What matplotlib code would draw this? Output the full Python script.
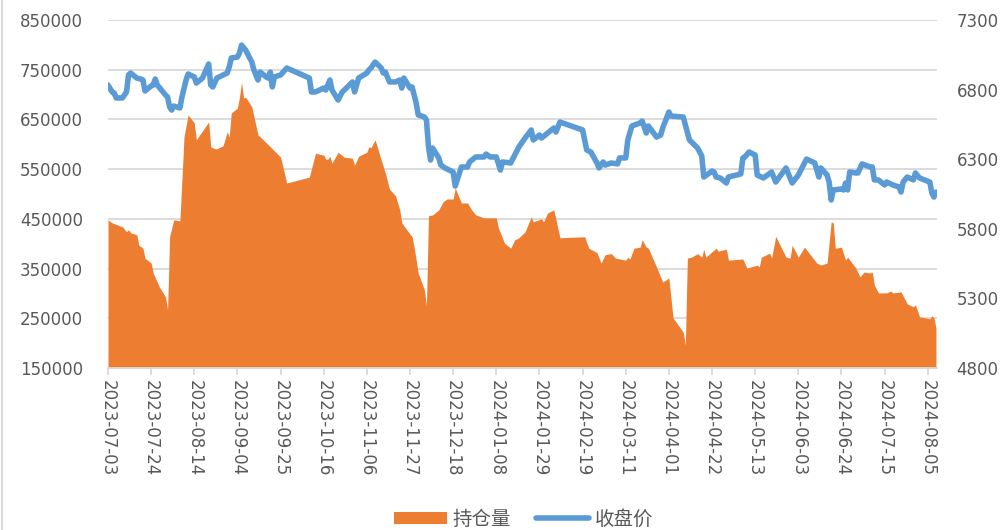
import numpy as np
import matplotlib
matplotlib.use("Agg")
import matplotlib.pyplot as plt
import matplotlib.dates as mdates
from matplotlib.patches import Patch
from matplotlib.lines import Line2D
import pandas as pd

plt.rcParams['font.family'] = ['DejaVu Sans', 'Noto Sans CJK SC']

# 持仓量 (左轴)
oi_dates = [
    "2023-07-03", "2023-07-05", "2023-07-10", "2023-07-12", "2023-07-13", "2023-07-14",
    "2023-07-17", "2023-07-18", "2023-07-20", "2023-07-21", "2023-07-24", "2023-07-25",
    "2023-07-28", "2023-07-31", "2023-08-01", "2023-08-02", "2023-08-04", "2023-08-07",
    "2023-08-09", "2023-08-11", "2023-08-14", "2023-08-15", "2023-08-16", "2023-08-21",
    "2023-08-22", "2023-08-24", "2023-08-25", "2023-08-28", "2023-08-30", "2023-08-31",
    "2023-09-01", "2023-09-04", "2023-09-05", "2023-09-06", "2023-09-07", "2023-09-08",
    "2023-09-11", "2023-09-14", "2023-09-18", "2023-09-20", "2023-09-25", "2023-09-28",
    "2023-10-09", "2023-10-12", "2023-10-16", "2023-10-17", "2023-10-18", "2023-10-19",
    "2023-10-20", "2023-10-23", "2023-10-26", "2023-10-30", "2023-10-31", "2023-11-02",
    "2023-11-06", "2023-11-07", "2023-11-08", "2023-11-10", "2023-11-13", "2023-11-15",
    "2023-11-17", "2023-11-20", "2023-11-22", "2023-11-23", "2023-11-24", "2023-11-28",
    "2023-11-29", "2023-12-01", "2023-12-04", "2023-12-05", "2023-12-06", "2023-12-08",
    "2023-12-11", "2023-12-13", "2023-12-15", "2023-12-18", "2023-12-19", "2023-12-22",
    "2023-12-25", "2023-12-27", "2023-12-29", "2024-01-02", "2024-01-08", "2024-01-09",
    "2024-01-12", "2024-01-15", "2024-01-17", "2024-01-19", "2024-01-22", "2024-01-25",
    "2024-01-26", "2024-01-30", "2024-01-31", "2024-02-02", "2024-02-05", "2024-02-08",
    "2024-02-20", "2024-02-22", "2024-02-26", "2024-02-28", "2024-03-01", "2024-03-04",
    "2024-03-06", "2024-03-11", "2024-03-12", "2024-03-13", "2024-03-15", "2024-03-18",
    "2024-03-19", "2024-03-21", "2024-03-22", "2024-03-26", "2024-03-28", "2024-03-29",
    "2024-04-01", "2024-04-03", "2024-04-08", "2024-04-09", "2024-04-10", "2024-04-12",
    "2024-04-15", "2024-04-17", "2024-04-18", "2024-04-19", "2024-04-24", "2024-04-25",
    "2024-04-29", "2024-04-30", "2024-05-06", "2024-05-07", "2024-05-09", "2024-05-14",
    "2024-05-15", "2024-05-16", "2024-05-20", "2024-05-21", "2024-05-23", "2024-05-28",
    "2024-05-30", "2024-05-31", "2024-06-03", "2024-06-06", "2024-06-12", "2024-06-14",
    "2024-06-17", "2024-06-19", "2024-06-20", "2024-06-21", "2024-06-24", "2024-06-26",
    "2024-06-27", "2024-07-01", "2024-07-03", "2024-07-05", "2024-07-08", "2024-07-09",
    "2024-07-10", "2024-07-12", "2024-07-16", "2024-07-18", "2024-07-19", "2024-07-23",
    "2024-07-25", "2024-07-26", "2024-07-29", "2024-07-30", "2024-08-01", "2024-08-06",
    "2024-08-07", "2024-08-08", "2024-08-09",
]
oi_values = [
    448000, 442000, 434000, 424000, 428000, 422000,
    418000, 397000, 391000, 371000, 361000, 341000,
    313000, 293000, 267000, 414000, 448000, 446000,
    615000, 659000, 643000, 609000, 615000, 645000,
    595000, 591000, 591000, 597000, 625000, 615000,
    663000, 673000, 695000, 725000, 693000, 695000,
    675000, 619000, 603000, 595000, 574000, 522000,
    534000, 582000, 578000, 570000, 570000, 576000,
    562000, 584000, 574000, 572000, 558000, 576000,
    584000, 595000, 593000, 609000, 568000, 542000,
    510000, 496000, 468000, 442000, 436000, 414000,
    393000, 341000, 307000, 275000, 456000, 458000,
    468000, 484000, 490000, 490000, 512000, 482000,
    482000, 468000, 458000, 452000, 452000, 432000,
    401000, 391000, 408000, 412000, 424000, 454000,
    444000, 450000, 444000, 462000, 468000, 412000,
    414000, 391000, 382000, 361000, 378000, 380000,
    371000, 367000, 373000, 369000, 391000, 393000,
    408000, 393000, 391000, 353000, 333000, 323000,
    331000, 251000, 222000, 196000, 371000, 373000,
    380000, 373000, 389000, 373000, 391000, 385000,
    389000, 367000, 369000, 369000, 351000, 357000,
    353000, 373000, 381000, 371000, 415000, 373000,
    371000, 397000, 373000, 393000, 361000, 357000,
    361000, 444000, 442000, 391000, 393000, 367000,
    373000, 351000, 333000, 343000, 341000, 343000,
    317000, 301000, 301000, 305000, 301000, 303000,
    287000, 279000, 273000, 277000, 253000, 249000,
    255000, 251000, 230000,
]

# 收盘价 (右轴)
px_dates = [
    "2023-07-03", "2023-07-05", "2023-07-06", "2023-07-07", "2023-07-10", "2023-07-12",
    "2023-07-13", "2023-07-14", "2023-07-17", "2023-07-19", "2023-07-20", "2023-07-21",
    "2023-07-24", "2023-07-25", "2023-07-26", "2023-07-27", "2023-07-31", "2023-08-01",
    "2023-08-02", "2023-08-03", "2023-08-04", "2023-08-07", "2023-08-08", "2023-08-10",
    "2023-08-11", "2023-08-14", "2023-08-15", "2023-08-18", "2023-08-21", "2023-08-22",
    "2023-08-23", "2023-08-25", "2023-08-28", "2023-08-30", "2023-08-31", "2023-09-01",
    "2023-09-04", "2023-09-05", "2023-09-06", "2023-09-08", "2023-09-11", "2023-09-12",
    "2023-09-14", "2023-09-15", "2023-09-18", "2023-09-19", "2023-09-20", "2023-09-21",
    "2023-09-22", "2023-09-25", "2023-09-28", "2023-10-09", "2023-10-10", "2023-10-12",
    "2023-10-16", "2023-10-17", "2023-10-19", "2023-10-20", "2023-10-23", "2023-10-25",
    "2023-10-27", "2023-10-30", "2023-10-31", "2023-11-02", "2023-11-06", "2023-11-07",
    "2023-11-08", "2023-11-10", "2023-11-13", "2023-11-14", "2023-11-15", "2023-11-17",
    "2023-11-20", "2023-11-22", "2023-11-23", "2023-11-24", "2023-11-27", "2023-11-28",
    "2023-11-30", "2023-12-01", "2023-12-04", "2023-12-05", "2023-12-06", "2023-12-07",
    "2023-12-08", "2023-12-11", "2023-12-12", "2023-12-14", "2023-12-18", "2023-12-19",
    "2023-12-22", "2023-12-25", "2023-12-26", "2023-12-29", "2024-01-02", "2024-01-03",
    "2024-01-05", "2024-01-08", "2024-01-10", "2024-01-11", "2024-01-15", "2024-01-17",
    "2024-01-19", "2024-01-22", "2024-01-25", "2024-01-26", "2024-01-29", "2024-01-30",
    "2024-02-05", "2024-02-06", "2024-02-08", "2024-02-19", "2024-02-21", "2024-02-23",
    "2024-02-26", "2024-02-27", "2024-02-29", "2024-03-01", "2024-03-04", "2024-03-07",
    "2024-03-08", "2024-03-11", "2024-03-12", "2024-03-14", "2024-03-18", "2024-03-19",
    "2024-03-21", "2024-03-22", "2024-03-26", "2024-03-28", "2024-03-29", "2024-04-01",
    "2024-04-02", "2024-04-08", "2024-04-11", "2024-04-15", "2024-04-17", "2024-04-18",
    "2024-04-22", "2024-04-23", "2024-04-24", "2024-04-26", "2024-04-29", "2024-04-30",
    "2024-05-06", "2024-05-07", "2024-05-08", "2024-05-10", "2024-05-13", "2024-05-14",
    "2024-05-17", "2024-05-21", "2024-05-23", "2024-05-28", "2024-05-31", "2024-06-03",
    "2024-06-07", "2024-06-11", "2024-06-13", "2024-06-14", "2024-06-17", "2024-06-18",
    "2024-06-19", "2024-06-20", "2024-06-24", "2024-06-25", "2024-06-26", "2024-06-27",
    "2024-06-28", "2024-07-01", "2024-07-02", "2024-07-04", "2024-07-08", "2024-07-09",
    "2024-07-10", "2024-07-12", "2024-07-15", "2024-07-16", "2024-07-19", "2024-07-22",
    "2024-07-23", "2024-07-24", "2024-07-26", "2024-07-29", "2024-07-30", "2024-08-01",
    "2024-08-06", "2024-08-07", "2024-08-08", "2024-08-09",
]
px_values = [
    6833, 6783, 6776, 6740, 6740, 6783,
    6905, 6919, 6883, 6876, 6869, 6790,
    6826, 6833, 6876, 6833, 6761, 6747,
    6675, 6653, 6682, 6668, 6747, 6869,
    6912, 6891, 6847, 6883, 6984, 6833,
    6819, 6883, 6905, 6919, 6962, 7027,
    7034, 7063, 7120, 7084, 6998, 6941,
    6869, 6926, 6891, 6883, 6926, 6819,
    6891, 6905, 6955, 6883, 6783, 6783,
    6811, 6797, 6869, 6797, 6725, 6783,
    6811, 6855, 6783, 6883, 6919, 6941,
    6955, 6998, 6955, 6919, 6926, 6855,
    6855, 6869, 6811, 6883, 6811, 6819,
    6704, 6618, 6603, 6582, 6388, 6294,
    6380, 6309, 6258, 6237, 6208, 6107,
    6244, 6244, 6280, 6316, 6316, 6337,
    6316, 6316, 6222, 6280, 6273, 6330,
    6388, 6452, 6510, 6438, 6474, 6452,
    6524, 6495, 6567, 6510, 6366, 6352,
    6273, 6237, 6280, 6258, 6273, 6266,
    6309, 6309, 6438, 6539, 6560, 6574,
    6488, 6539, 6459, 6474, 6524, 6639,
    6610, 6603, 6438, 6380, 6323, 6172,
    6215, 6208, 6172, 6165, 6129, 6172,
    6194, 6309, 6316, 6352, 6330, 6186,
    6165, 6208, 6136, 6237, 6129, 6186,
    6301, 6273, 6172, 6237, 6186, 6136,
    6007, 6079, 6086, 6079, 6129, 6079,
    6208, 6201, 6201, 6266, 6244, 6244,
    6151, 6151, 6115, 6136, 6115, 6100,
    6064, 6136, 6172, 6151, 6201, 6165,
    6136, 6057, 6028, 6064,
]

tick_start = "2023-07-03"
tick_end = "2024-08-05"

oi_x = pd.to_datetime(oi_dates)
px_x = pd.to_datetime(px_dates)

orange = "#ED7D31"
blue = "#5B9BD5"
grid_c = "#D9D9D9"
text_c = "#595959"

fig = plt.figure(figsize=(10.07, 5.30), dpi=100)
ax = fig.add_axes([108 / 1007, 1 - 368 / 530, (937 - 108) / 1007, 348 / 530])
ax2 = ax.twinx()

ax.fill_between(oi_x, oi_values, 150000, color=orange, linewidth=0)
ax2.plot(px_x, px_values, color=blue, linewidth=4.0,
         solid_joinstyle="round", solid_capstyle="round")

ax.set_ylim(150000, 850000)
ax.set_yticks(np.arange(150000, 850001, 100000))
ax2.set_ylim(4800, 7300)
ax2.set_yticks(np.arange(4800, 7301, 500))

x0 = pd.Timestamp(tick_start)
ax.set_xlim(x0, x0 + pd.Timedelta(days=403.5))
ax.set_xticks(pd.date_range(tick_start, tick_end, freq="21D"))
ax.xaxis.set_major_formatter(mdates.DateFormatter("%Y-%m-%d"))

ax.set_axisbelow(True)
ax.yaxis.grid(True, color=grid_c, linewidth=1.3)

for a in (ax, ax2):
    for s in ("top", "left", "right"):
        a.spines[s].set_visible(False)
ax2.spines["bottom"].set_visible(False)
ax.spines["bottom"].set_color(grid_c)
ax.spines["bottom"].set_linewidth(1.3)

ax.tick_params(axis="y", length=0, pad=18, labelsize=12, labelcolor=text_c)
ax2.tick_params(axis="y", length=0, pad=14, labelsize=12, labelcolor=text_c)
ax.tick_params(axis="x", length=5, width=1.3, color=grid_c, pad=4,
               labelsize=12, labelcolor=text_c, labelrotation=270)
for lb in ax.get_xticklabels():
    lb.set_horizontalalignment("center")
    lb.set_verticalalignment("top")

handles = [Patch(facecolor=orange, edgecolor="none"),
           Line2D([], [], color=blue, linewidth=4.0, solid_capstyle="round")]
fig.legend(handles, ["持仓量", "收盘价"], loc="center", bbox_to_anchor=(0.52, 0.02),
           ncol=2, frameon=False, handlelength=2.7, handleheight=0.6,
           handletextpad=0.3, columnspacing=1.3,
           prop={"family": ["Noto Sans CJK SC", "DejaVu Sans"], "size": 14},
           labelcolor=text_c)

fig.add_artist(Line2D([0.002, 0.002], [0, 1], color=grid_c, linewidth=1.5,
                      transform=fig.transFigure))

fig.savefig("out.png", dpi=100)
